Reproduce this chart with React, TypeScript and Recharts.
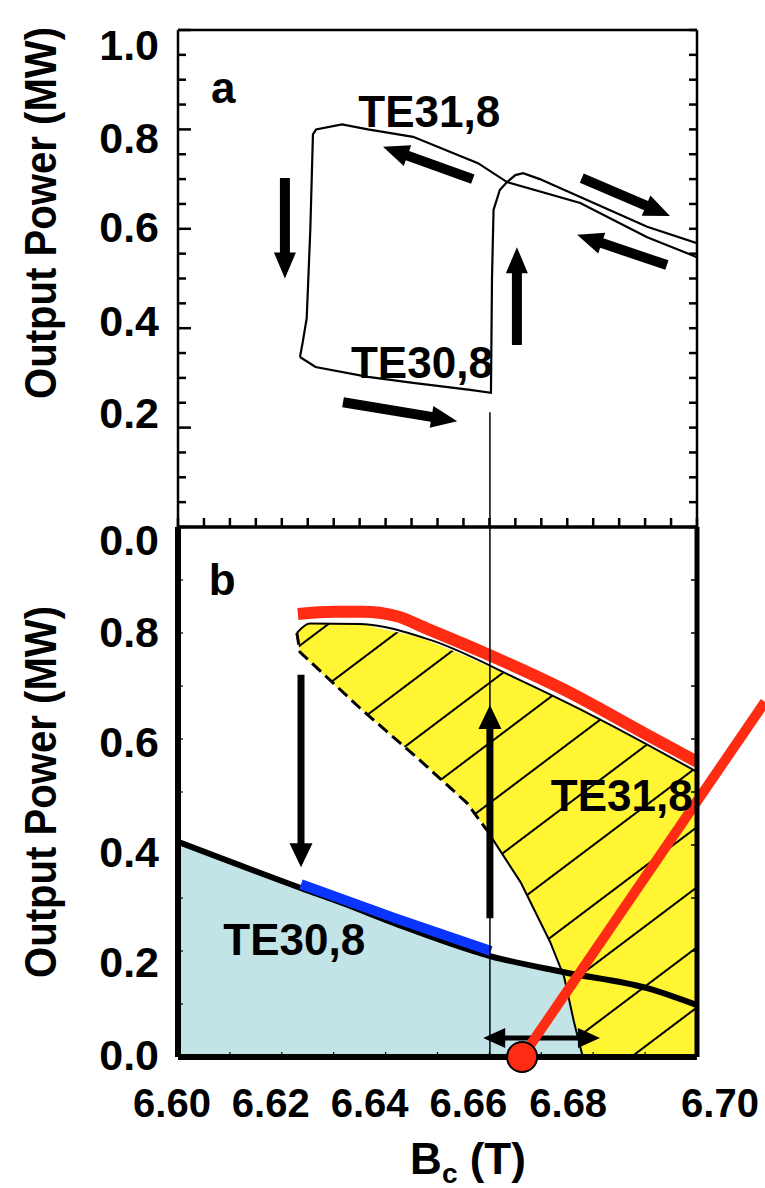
import React from 'react';
import { ComposedChart, Line, Area, XAxis, YAxis, ReferenceLine, ReferenceDot } from 'recharts';

const FONT = "'Liberation Sans', Arial, Helvetica, sans-serif";
const YELLOW = '#FFF533';
const ICE = '#C2E4E7';
const RED = '#FF2B12';
const BLUE = '#0A35FF';

// axes
const fieldDomain = [6.6, 6.7];
const fieldLabels = [6.6, 6.62, 6.64, 6.66, 6.68, 6.7];
const powerLabelsA = [0.2, 0.4, 0.6, 0.8, 1.0];
const powerLabelsB = [0, 0.2, 0.4, 0.6, 0.8, 1.0];

// the original figure typesets its tick labels slightly off the ticks (px)
const fieldLabelNudge = [-6, -11, -16, -21, -25, 23];
const powerNudgeA = [15, 8, -2, -8, -15].reverse(); // for 0.2 .. 1.0
const powerNudgeB = [-2, 11, 7, 3, -1, 13]; // for 0.0 .. 1.0

// panel a: measured output power, field swept up then down
const sweepUp = [
  { b: 6.6235, p: 0.342 },
  { b: 6.6265, p: 0.322 },
  { b: 6.6366, p: 0.302 },
  { b: 6.6453, p: 0.29 },
  { b: 6.6563, p: 0.276 },
  { b: 6.6603, p: 0.27 },
  { b: 6.6605, p: 0.5 },
  { b: 6.6608, p: 0.638 },
  { b: 6.662, p: 0.678 },
  { b: 6.6634, p: 0.694 },
  { b: 6.665, p: 0.708 },
  { b: 6.6665, p: 0.712 },
  { b: 6.6697, p: 0.7 },
  { b: 6.6775, p: 0.664 },
  { b: 6.6904, p: 0.604 },
  { b: 6.7, p: 0.571 },
];
const sweepDown = [
  { b: 6.7, p: 0.543 },
  { b: 6.6904, p: 0.583 },
  { b: 6.6775, p: 0.652 },
  { b: 6.6634, p: 0.694 },
  { b: 6.6578, p: 0.732 },
  { b: 6.6453, p: 0.785 },
  { b: 6.6366, p: 0.8 },
  { b: 6.6316, p: 0.81 },
  { b: 6.6266, p: 0.8 },
  { b: 6.626, p: 0.79 },
  { b: 6.6255, p: 0.6 },
  { b: 6.6248, p: 0.42 },
  { b: 6.624, p: 0.37 },
  { b: 6.6235, p: 0.342 },
];

// panel b: computed regions
const te31Edge = [
  { b: 6.6229, p: 0.8 },
  { b: 6.6254, p: 0.818 },
  { b: 6.6351, p: 0.817 },
  { b: 6.6486, p: 0.787 },
  { b: 6.6659, p: 0.711 },
  { b: 6.6807, p: 0.64 },
  { b: 6.7, p: 0.538 },
];
const te31Red = [
  { b: 6.6231, p: 0.836 },
  { b: 6.63, p: 0.84 },
  { b: 6.6356, p: 0.84 },
  { b: 6.642, p: 0.832 },
  { b: 6.648, p: 0.808 },
  { b: 6.6582, p: 0.766 },
  { b: 6.6742, p: 0.694 },
  { b: 6.69, p: 0.61 },
  { b: 6.7, p: 0.557 },
];
const te31Lower = [
  { b: 6.6229, p: 0.8 },
  { b: 6.6235, p: 0.764 },
  { b: 6.6351, p: 0.658 },
  { b: 6.6466, p: 0.56 },
  { b: 6.6557, p: 0.479 },
  { b: 6.6595, p: 0.428 },
];
const te31Tail = [
  { b: 6.6595, p: 0.428 },
  { b: 6.666, p: 0.33 },
  { b: 6.6717, p: 0.217 },
  { b: 6.6744, p: 0.151 },
  { b: 6.6763, p: 0.066 },
  { b: 6.678, p: 0 },
];
const te31Band = [
  { b: 6.6229, range: [0.795, 0.8] },
  { b: 6.6235, range: [0.764, 0.81] },
  { b: 6.6254, range: [0.745, 0.818] },
  { b: 6.6351, range: [0.658, 0.817] },
  { b: 6.6466, range: [0.56, 0.792] },
  { b: 6.6557, range: [0.479, 0.755] },
  { b: 6.6595, range: [0.428, 0.738] },
  { b: 6.666, range: [0.33, 0.71] },
  { b: 6.6717, range: [0.217, 0.685] },
  { b: 6.6744, range: [0.151, 0.672] },
  { b: 6.6763, range: [0.066, 0.664] },
  { b: 6.678, range: [0, 0.657] },
  { b: 6.6807, range: [0, 0.64] },
  { b: 6.69, range: [0, 0.59] },
  { b: 6.7, range: [0, 0.538] },
];
const te30Curve = [
  { b: 6.6, p: 0.406 },
  { b: 6.6239, p: 0.318 },
  { b: 6.6318, p: 0.29 },
  { b: 6.6418, p: 0.252 },
  { b: 6.6603, p: 0.19 },
  { b: 6.6744, p: 0.16 },
  { b: 6.6904, p: 0.13 },
  { b: 6.7, p: 0.098 },
];
const te30Blue = [
  { b: 6.6237, p: 0.326 },
  { b: 6.6418, p: 0.262 },
  { b: 6.6603, p: 0.2 },
];
const te30Band = [
  { b: 6.6, range: [0, 0.406] },
  { b: 6.6239, range: [0, 0.318] },
  { b: 6.6318, range: [0, 0.29] },
  { b: 6.6418, range: [0, 0.252] },
  { b: 6.6603, range: [0, 0.19] },
  { b: 6.672, range: [0, 0.164] },
  { b: 6.6744, range: [0, 0.151] },
  { b: 6.6763, range: [0, 0.066] },
  { b: 6.678, range: [0, 0] },
];

// annotations
const markerField = 6.6601;
const arrowsA = [
  { from: [6.6206, 0.702], to: [6.6206, 0.5] },
  { from: [6.6568, 0.7], to: [6.6395, 0.765] },
  { from: [6.6778, 0.702], to: [6.6948, 0.626] },
  { from: [6.6942, 0.527], to: [6.6769, 0.588] },
  { from: [6.6653, 0.366], to: [6.6653, 0.563] },
  { from: [6.6318, 0.251], to: [6.6538, 0.213] },
];
const arrowsB = [
  { from: [6.6237, 0.721], to: [6.6237, 0.358] },
  { from: [6.6601, 0.262], to: [6.6601, 0.664] },
];
const spanB = { from: [6.6588, 0.036], to: [6.6813, 0.036] };
const operatingPoint = { b: 6.6663, p: 0 };
const loadLine = { from: [6.6663, 0], to: [6.7131, 0.67] };
const notesA = [
  { b: 6.6087, p: 0.853, text: 'a' },
  { b: 6.6484, p: 0.805, text: 'TE31,8' },
  { b: 6.647, p: 0.3, text: 'TE30,8' },
];
const notesB = [
  { b: 6.6085, p: 0.872, text: 'b' },
  { b: 6.6855, p: 0.464, text: 'TE31,8' },
  { b: 6.6224, p: 0.192, text: 'TE30,8' },
];

const steps = (from: number, to: number, step: number) => {
  const out: number[] = [];
  for (let i = 0; from + i * step <= to + 1e-9; i++) out.push(+(from + i * step).toFixed(4));
  return out;
};
const indexOf = (list: number[], v: number) => list.findIndex((t) => Math.abs(t - v) < 1e-6);

const arrowShape = (shaft: number, headW: number, headL: number, both = false) => (p: any) => {
  const { x1, y1, x2, y2 } = p;
  const dx = x2 - x1;
  const dy = y2 - y1;
  const len = Math.hypot(dx, dy);
  const ux = dx / len;
  const uy = dy / len;
  const pt = (s: number, t: number) => `${x1 + ux * s - uy * t},${y1 + uy * s + ux * t}`;
  const h = shaft / 2;
  const w = headW / 2;
  const pts = both
    ? [pt(0, 0), pt(headL, -w), pt(headL, -h), pt(len - headL, -h), pt(len - headL, -w), pt(len, 0), pt(len - headL, w), pt(len - headL, h), pt(headL, h), pt(headL, w)]
    : [pt(0, -h), pt(len - headL, -h), pt(len - headL, -w), pt(len, 0), pt(len - headL, w), pt(len - headL, h), pt(0, h)];
  return <polygon points={pts.join(' ')} fill="#000" />;
};

const noteShape = (text: string) => (p: any) => (
  <text x={p.cx} y={p.cy} textAnchor="middle" fontFamily={FONT} fontWeight="bold" fontSize={44} fill="#000">
    {text}
  </text>
);

const labelStyle = { fontFamily: FONT, fontWeight: 'bold' as const, fontSize: 43, fill: '#000' };

// vertical axis ticks: line drawn inward, label outside
const vTick = (side: 'left' | 'right', majors: number[], majorLen: number, minorLen: number, width: number,
  label?: (v: number) => string | null, nudge?: number[]) => (p: any) => {
  const v = p.payload.value;
  const k = indexOf(majors, v);
  const major = k >= 0;
  const dir = side === 'left' ? 1 : -1;
  const text = label && major ? label(v) : null;
  return (
    <g>
      <line x1={p.x} x2={p.x + dir * (major ? majorLen : minorLen)} y1={p.y} y2={p.y} stroke="#000" strokeWidth={width} />
      {text && (
        <text x={p.x - 19} y={p.y + (nudge ? nudge[k] : 0)} dy="0.36em" textAnchor="end" {...labelStyle}>
          {text}
        </text>
      )}
    </g>
  );
};

const hTick = (side: 'top' | 'bottom', len: number, width: number, labelled = false) => (p: any) => {
  const v = p.payload.value;
  const dir = side === 'top' ? 1 : -1;
  const k = labelled ? indexOf(fieldLabels, v) : -1;
  return (
    <g>
      <line x1={p.x} x2={p.x} y1={p.y} y2={p.y + dir * len} stroke="#000" strokeWidth={width} />
      {k >= 0 && (
        <text x={p.x + fieldLabelNudge[k]} y={p.y + 60} textAnchor="middle" {...labelStyle} fontSize={40}>
          {v.toFixed(2)}
        </text>
      )}
    </g>
  );
};

const powerTitle = (cy: number) => () => (
  <text transform={`translate(40,${cy}) rotate(-90)`} textAnchor="middle" dy="0.36em" fontFamily={FONT}
    fontWeight="bold" fontSize={44} textLength={372} lengthAdjust="spacingAndGlyphs" fill="#000">
    Output Power (MW)
  </text>
);

const fieldTitle = () => (
  <text x={468} y={1174} textAnchor="middle" fontFamily={FONT} fontWeight="bold" fontSize={44} fill="#000">
    B<tspan fontSize={28} dy={9}>c</tspan><tspan dy={-9}> (T)</tspan>
  </text>
);

const axisIds = { xAxisId: 'b', yAxisId: 'l' };

function PanelA() {
  return (
    <ComposedChart width={765} height={560} margin={{ top: 0, right: 8, bottom: 3, left: 118 }}>
      <XAxis xAxisId="t" orientation="top" type="number" domain={fieldDomain} allowDataOverflow height={30}
        ticks={steps(6.6, 6.7, 0.005)} interval={0} tickSize={0} tickMargin={0} tickLine={false}
        tick={hTick('top', 8, 2.5)} axisLine={{ stroke: '#000', strokeWidth: 2.5 }} />
      <XAxis xAxisId="b" type="number" dataKey="b" domain={fieldDomain} allowDataOverflow height={30}
        ticks={steps(6.6, 6.7, 0.005)} interval={0} tickSize={0} tickMargin={0} tickLine={false}
        tick={hTick('bottom', 9, 2.5)} axisLine={{ stroke: '#000', strokeWidth: 3 }} />
      <YAxis yAxisId="l" type="number" domain={[0, 1]} allowDataOverflow width={60}
        ticks={steps(0, 1, 0.05)} interval={0} tickSize={0} tickMargin={0} tickLine={false}
        tick={vTick('left', powerLabelsA, 13, 8, 2.5, (v) => v.toFixed(1), powerNudgeA)}
        axisLine={{ stroke: '#000', strokeWidth: 2.5 }} label={{ content: powerTitle(213) }} />
      <YAxis yAxisId="r" orientation="right" type="number" domain={[0, 1]} allowDataOverflow width={60}
        ticks={steps(0, 1, 0.05)} interval={0} tickSize={0} tickMargin={0} tickLine={false}
        tick={vTick('right', [], 8, 8, 2.5)} axisLine={{ stroke: '#000', strokeWidth: 2.5 }} />

      <Line {...axisIds} data={sweepUp} dataKey="p" type="linear" stroke="#000" strokeWidth={2.2}
        dot={false} activeDot={false} isAnimationActive={false} />
      <Line {...axisIds} data={sweepDown} dataKey="p" type="linear" stroke="#000" strokeWidth={2.2}
        dot={false} activeDot={false} isAnimationActive={false} />

      <ReferenceLine {...axisIds} segment={[{ x: markerField, y: 0 }, { x: markerField, y: 0.231 }]}
        stroke="#000" strokeWidth={1.5} ifOverflow="visible" />
      {arrowsA.map((a, i) => (
        <ReferenceLine key={`aa${i}`} {...axisIds} ifOverflow="visible"
          segment={[{ x: a.from[0], y: a.from[1] }, { x: a.to[0], y: a.to[1] }]} shape={arrowShape(10, 22, 26)} />
      ))}
      {notesA.map((n) => (
        <ReferenceDot key={`na${n.text}`} {...axisIds} x={n.b} y={n.p} r={1} ifOverflow="visible" shape={noteShape(n.text)} />
      ))}
    </ComposedChart>
  );
}

function PanelB() {
  return (
    <ComposedChart width={765} height={1188} margin={{ top: 527, right: 8, bottom: 71, left: 118 }}>
      <defs>
        <pattern id="te31Hatch" patternUnits="userSpaceOnUse" width={10} height={48} patternTransform="rotate(-37)">
          <rect width={10} height={48} fill={YELLOW} />
          <line x1={0} x2={10} y1={24} y2={24} stroke="#000" strokeWidth={2} />
        </pattern>
      </defs>
      <XAxis xAxisId="b" type="number" dataKey="b" domain={fieldDomain} allowDataOverflow height={60}
        ticks={steps(6.6, 6.7, 0.01)} interval={0} tickSize={0} tickMargin={0} tickLine={false}
        tick={hTick('bottom', 5, 1.2, true)} axisLine={{ stroke: '#000', strokeWidth: 6 }}
        label={{ content: fieldTitle }} />
      <YAxis yAxisId="l" type="number" domain={[0, 1]} allowDataOverflow width={60}
        ticks={steps(0, 1, 0.1)} interval={0} tickSize={0} tickMargin={0} tickLine={false}
        tick={vTick('left', powerLabelsB, 5, 5, 1.2, (v) => (v === 1 ? '0.0' : v.toFixed(1)), powerNudgeB)}
        axisLine={{ stroke: '#000', strokeWidth: 6 }} label={{ content: powerTitle(792) }} />
      <YAxis yAxisId="r" orientation="right" type="number" domain={[0, 1]} allowDataOverflow width={60}
        ticks={steps(0, 1, 0.1)} interval={0} tickSize={0} tickMargin={0} tickLine={false}
        tick={vTick('right', [], 6, 6, 1.5)} axisLine={{ stroke: '#000', strokeWidth: 5 }} />

      <Area {...axisIds} data={te30Band} dataKey="range" type="monotone" stroke="none" fill={ICE} fillOpacity={1}
        dot={false} activeDot={false} isAnimationActive={false} />
      <Area {...axisIds} data={te31Band} dataKey="range" type="linear" stroke="none" fill="url(#te31Hatch)" fillOpacity={1}
        dot={false} activeDot={false} isAnimationActive={false} />
      <Line {...axisIds} data={te31Edge} dataKey="p" type="monotone" stroke="#000" strokeWidth={2}
        dot={false} activeDot={false} isAnimationActive={false} />
      <Line {...axisIds} data={te31Lower} dataKey="p" type="linear" stroke="#000" strokeWidth={3} strokeDasharray="12 6"
        dot={false} activeDot={false} isAnimationActive={false} />
      <Line {...axisIds} data={te31Tail} dataKey="p" type="linear" stroke="#000" strokeWidth={2}
        dot={false} activeDot={false} isAnimationActive={false} />
      <Line {...axisIds} data={te30Curve} dataKey="p" type="monotone" stroke="#000" strokeWidth={6}
        dot={false} activeDot={false} isAnimationActive={false} />
      <Line {...axisIds} data={te30Blue} dataKey="p" type="monotone" stroke={BLUE} strokeWidth={10}
        dot={false} activeDot={false} isAnimationActive={false} />
      <Line {...axisIds} data={te31Red} dataKey="p" type="monotone" stroke={RED} strokeWidth={12}
        dot={false} activeDot={false} isAnimationActive={false} />

      <ReferenceLine {...axisIds} y={1} stroke="#000" strokeWidth={3} ifOverflow="visible" />
      <ReferenceLine {...axisIds} segment={[{ x: markerField, y: 0 }, { x: markerField, y: 1 }]}
        stroke="#000" strokeWidth={1.5} ifOverflow="visible" />
      {arrowsB.map((a, i) => (
        <ReferenceLine key={`ab${i}`} {...axisIds} ifOverflow="visible"
          segment={[{ x: a.from[0], y: a.from[1] }, { x: a.to[0], y: a.to[1] }]} shape={arrowShape(7, 23, 24)} />
      ))}
      <ReferenceLine {...axisIds} ifOverflow="visible"
        segment={[{ x: spanB.from[0], y: spanB.from[1] }, { x: spanB.to[0], y: spanB.to[1] }]} shape={arrowShape(5, 20, 22, true)} />
      <ReferenceLine {...axisIds} ifOverflow="visible"
        segment={[{ x: loadLine.from[0], y: loadLine.from[1] }, { x: loadLine.to[0], y: loadLine.to[1] }]}
        stroke={RED} strokeWidth={10} />
      <ReferenceDot {...axisIds} x={operatingPoint.b} y={operatingPoint.p} r={15} fill={RED} stroke="#000"
        strokeWidth={2} ifOverflow="visible" />
      {notesB.map((n) => (
        <ReferenceDot key={`nb${n.text}`} {...axisIds} x={n.b} y={n.p} r={1} ifOverflow="visible" shape={noteShape(n.text)} />
      ))}
    </ComposedChart>
  );
}

export default function App() {
  return (
    <div style={{ position: 'absolute', left: 0, top: 0, width: 765, height: 1188, background: '#fff', overflow: 'hidden' }}>
      <div style={{ position: 'absolute', left: 0, top: 0 }}>
        <PanelB />
      </div>
      <div style={{ position: 'absolute', left: 0, top: 0, pointerEvents: 'none' }}>
        <PanelA />
      </div>
    </div>
  );
}
